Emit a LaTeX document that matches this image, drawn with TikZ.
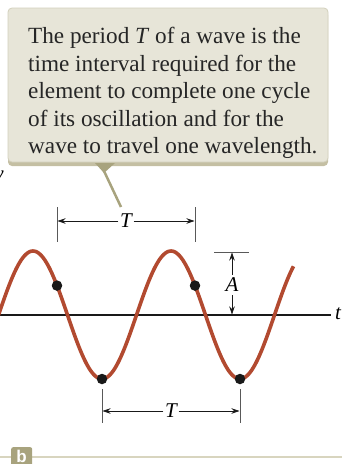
\documentclass[tikz,border=0pt]{standalone}
\usepackage{fontspec}
\setmainfont{Liberation Serif}
\setsansfont{Liberation Sans}
\usepackage{xcolor}
\usetikzlibrary{arrows,arrows.meta,positioning,calc}
\definecolor{wavered}{RGB}{178, 74, 48}
\definecolor{notefill}{RGB}{231, 229, 216}
\definecolor{noteline}{RGB}{211, 208, 188}
\definecolor{noteshade}{RGB}{196, 191, 163}
\definecolor{noteolive}{RGB}{168, 163, 126}
\definecolor{rulebeige}{RGB}{216, 213, 191}
\tikzset{
    notebox/.style={draw=noteline, fill=notefill, rounded corners=4pt, line width=0.8pt, minimum width=320pt, minimum height=154pt, inner sep=0pt},
    notetext/.style={font=\fontsize{23.2}{27.5}\selectfont, align=left, inner sep=0pt, text=black!85},
    dimlabel/.style={font=\fontsize{21}{21}\selectfont\itshape, inner sep=1.5pt, fill=white},
    tickline/.style={draw=black!65, line width=0.9pt},
    dimarrow/.style={-{Stealth[length=8pt, width=5.5pt]}, line width=0.8pt, draw=black!90},
    wavedot/.style={circle, fill=black!90, minimum size=10.5pt, inner sep=0pt},
}
\begin{document}
\begin{tikzpicture}[x=1pt, y=-1pt, >=stealth]
    \useasboundingbox (0,0) rectangle (342,464);
    \clip (0,0) rectangle (342,464);

    % callout
    \fill[noteshade, rounded corners=4pt] (8,11) rectangle (328,166);
    \node[notebox] (note) at (168,85) {};
    \node[notetext, anchor=base west] (notetxt) at (28,153.5) {The period \textit{T} of a wave is the\\time interval required for the\\element to complete one cycle\\of its oscillation and for the\\wave to travel one wavelength.};
    \coordinate (tipL) at (95,163);
    \coordinate (tipR) at (115,163);
    \coordinate (tip) at (104,173);
    \coordinate (ptr) at (121,207);
    \fill[noteolive] (tipL) -- (tipR) -- (tip) -- cycle;
    \draw[noteolive, line width=2.5pt] ($(tip)+(0,-2)$) -- (ptr);

    % cut-off axis label
    \node[font=\fontsize{21}{21}\selectfont\itshape, anchor=east, inner sep=0pt] (ylab) at (4,178) {y};

    % time axis
    \coordinate (axL) at (0,315);
    \node[font=\fontsize{21}{21}\selectfont\itshape, inner sep=0pt] (tlab) at (338,314) {t};
    \draw[line width=1.5pt, black!90] (axL) -- (331,315);

    % the wave
    \draw[wavered, line width=3.6pt] plot[domain=-3:293.5, samples=200, smooth] (\x, {315-64*sin(2.6087*(\x+1.5))});
    \node[wavedot] (d1) at (57,285.6) {};
    \node[wavedot] (d2) at (195,285.6) {};
    \node[wavedot] (d3) at (102,379) {};
    \node[wavedot] (d4) at (240,379) {};

    % period between the two falling points
    \draw[tickline] (57,207) -- (57,242);
    \draw[tickline] (195,207) -- (195,242);
    \node[dimlabel] (Ttop) at (126,221) {T};
    \draw[dimarrow] (Ttop.west) -- (57.5,221);
    \draw[dimarrow] (Ttop.east) -- (194.5,221);

    % period between the two troughs
    \draw[tickline] (102,389) -- (102,423);
    \draw[tickline] (240,389) -- (240,423);
    \node[dimlabel] (Tbot) at (171,411) {T};
    \draw[dimarrow] (Tbot.west) -- (102.5,411);
    \draw[dimarrow] (Tbot.east) -- (239.5,411);

    % amplitude
    \draw[tickline] (214,252) -- (249,252);
    \node[dimlabel, inner sep=3pt] (Alab) at (232,285) {A};
    \draw[dimarrow] (Alab.north) -- (232,252.5);
    \draw[dimarrow] (Alab.south) -- (232,314.5);

    % panel tag
    \draw[rulebeige, line width=1.5pt] (0,457) -- (342,457);
    \node[fill=noteolive, rounded corners=2pt, minimum width=21pt, minimum height=24pt, inner sep=0pt, anchor=north west] (tag) at (11,447) {};
    \node[text=white, font=\sffamily\bfseries\fontsize{17}{17}\selectfont, inner sep=0pt, anchor=base] (tagb) at (21.5,462) {b};
\end{tikzpicture}
\end{document}
